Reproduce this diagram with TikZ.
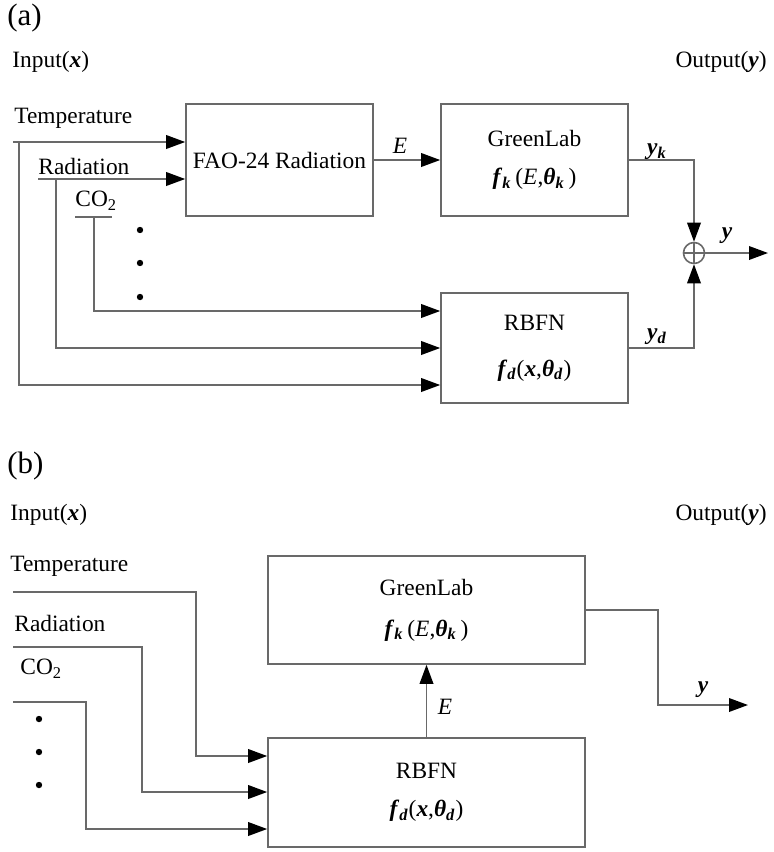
\documentclass[tikz,border=0pt]{standalone}
\usepackage{fontspec}
\setmainfont{Liberation Serif}
\usetikzlibrary{arrows.meta,calc}
\newcommand\bi[1]{\textbf{\textit{#1}}}
\newcommand\bsub[1]{\textsubscript{\bi{#1}}}
\definecolor{linegray}{RGB}{105,105,105}
\begin{document}
\begin{tikzpicture}[x=0.5pt,y=-0.5pt,
  line/.style={draw=linegray,line width=0.8pt},
  arr/.style={line,-{Triangle[length=9.5pt,width=6.8pt,color=black]}},
  boxstyle/.style={draw=linegray,line width=0.8pt,inner sep=0pt,align=center,font=\fontsize{11.7}{19}\selectfont},
  txt/.style={inner sep=0pt,font=\fontsize{11.7}{13}\selectfont},
  big/.style={inner sep=0pt,font=\fontsize{15.5}{17}\selectfont},
  dotmark/.style={circle,fill=black,inner sep=0pt,minimum size=3.2pt}
]
\useasboundingbox (0,0) rectangle (774,852);

% ---------------- panel (a) ----------------
\node[big,anchor=west] (la) at (7,18) {(a)};
\node[txt,anchor=west] (ina) at (12,62) {Input(\bi{x})};
\node[txt,anchor=east] (outa) at (767,62) {Output(\bi{y})};

\node[boxstyle,minimum width=93.5pt,minimum height=56pt] (fao) at (279.5,160) {FAO-24 Radiation};
\node[boxstyle,minimum width=93.5pt,minimum height=56pt] (gla) at (534.5,160) {GreenLab\\\bi{f}\bsub{k}\,(\textit{E},\bi{θ}\bsub{k}\,)};
\node[boxstyle,minimum width=93.5pt,minimum height=55pt,font=\fontsize{11.7}{23}\selectfont] (rba) at (534.5,348) {RBFN\\\bi{f}\bsub{d}(\bi{x},\bi{θ}\bsub{d})};
\node[circle,draw=linegray,line width=0.8pt,minimum size=10.5pt,inner sep=0pt] (sum) at (694,253) {};
\draw[line] (sum.north) -- (sum.south) (sum.west) -- (sum.east);

\node[txt,anchor=west] (tta) at (14,118) {Temperature};
\node[txt,anchor=west] (tra) at (38,166) {Radiation};
\node[txt,anchor=west] (tca) at (75,201) {CO\textsubscript{2}};
\node[dotmark] (da1) at (140,230) {};
\node[dotmark] (da2) at (140,263) {};
\node[dotmark] (da3) at (140,297) {};

\coordinate (sTa) at (13,142);
\coordinate (vTa) at (19,142);
\coordinate (sRa) at (38,179);
\coordinate (vRa) at (56,179);
\coordinate (sCa) at (75,217);
\coordinate (eCa) at (112,217);
\coordinate (vCa) at (94,217);
\coordinate (yTa) at (0,385);
\coordinate (yRa) at (0,348);
\coordinate (yCa) at (0,311);
\coordinate (oa) at (768,253);

\draw[arr] (sTa) -- (sTa -| fao.west);
\draw[arr] (sRa) -- (sRa -| fao.west);
\draw[line] (sCa) -- (eCa);
\draw[arr] (vTa) |- (yTa -| rba.west);
\draw[arr] (vRa) |- (yRa -| rba.west);
\draw[arr] (vCa) |- (yCa -| rba.west);
\draw[arr] (fao.east) -- (gla.west);
\draw[arr] (gla.east) -| (sum.north);
\draw[arr] (rba.east) -| (sum.south);
\draw[arr] (sum.east) -- (oa);

\node[txt] (lE) at (400,146) {\textit{E}};
\node[txt] (lyk) at (657,152) {\bi{y}\bsub{k}};
\node[txt] (lya) at (727,236) {\bi{y}};
\node[txt] (lyd) at (657,337) {\bi{y}\bsub{d}};

% ---------------- panel (b) ----------------
\node[big,anchor=west] (lb) at (7,466) {(b)};
\node[txt,anchor=west] (inb) at (10,515) {Input(\bi{x})};
\node[txt,anchor=east] (outb) at (767,515) {Output(\bi{y})};

\node[boxstyle,minimum width=158.5pt,minimum height=54pt,font=\fontsize{11.7}{20.5}\selectfont] (glb) at (426.5,610) {GreenLab\\\bi{f}\bsub{k}\,(\textit{E},\bi{θ}\bsub{k}\,)};
\node[boxstyle,minimum width=158.5pt,minimum height=54.5pt] (rbb) at (426.5,792.5) {RBFN\\\bi{f}\bsub{d}(\bi{x},\bi{θ}\bsub{d})};

\node[txt,anchor=west] (ttb) at (10,566) {Temperature};
\node[txt,anchor=west] (trb) at (14,623) {Radiation};
\node[txt,anchor=west] (tcb) at (20,669) {CO\textsubscript{2}};
\node[dotmark] (db1) at (39,719) {};
\node[dotmark] (db2) at (39,752) {};
\node[dotmark] (db3) at (39,785) {};

\coordinate (sTb) at (13,592);
\coordinate (cTb) at (196,592);
\coordinate (sRb) at (13,647);
\coordinate (cRb) at (142,647);
\coordinate (sCb) at (13,702);
\coordinate (cCb) at (86,702);
\coordinate (yTb) at (0,756);
\coordinate (yRb) at (0,792);
\coordinate (yCb) at (0,829);
\coordinate (cOb) at (658,610);
\coordinate (ob) at (748,705);

\draw[arr] (sTb) -- (cTb) |- (yTb -| rbb.west);
\draw[arr] (sRb) -- (cRb) |- (yRb -| rbb.west);
\draw[arr] (sCb) -- (cCb) |- (yCb -| rbb.west);
\draw[arr] (rbb.north) -- (glb.south);
\draw[arr] (glb.east) -- (cOb) |- (ob);

\node[txt] (lEb) at (445,707) {\textit{E}};
\node[txt] (lyb) at (703,690) {\bi{y}};
\end{tikzpicture}
\end{document}
